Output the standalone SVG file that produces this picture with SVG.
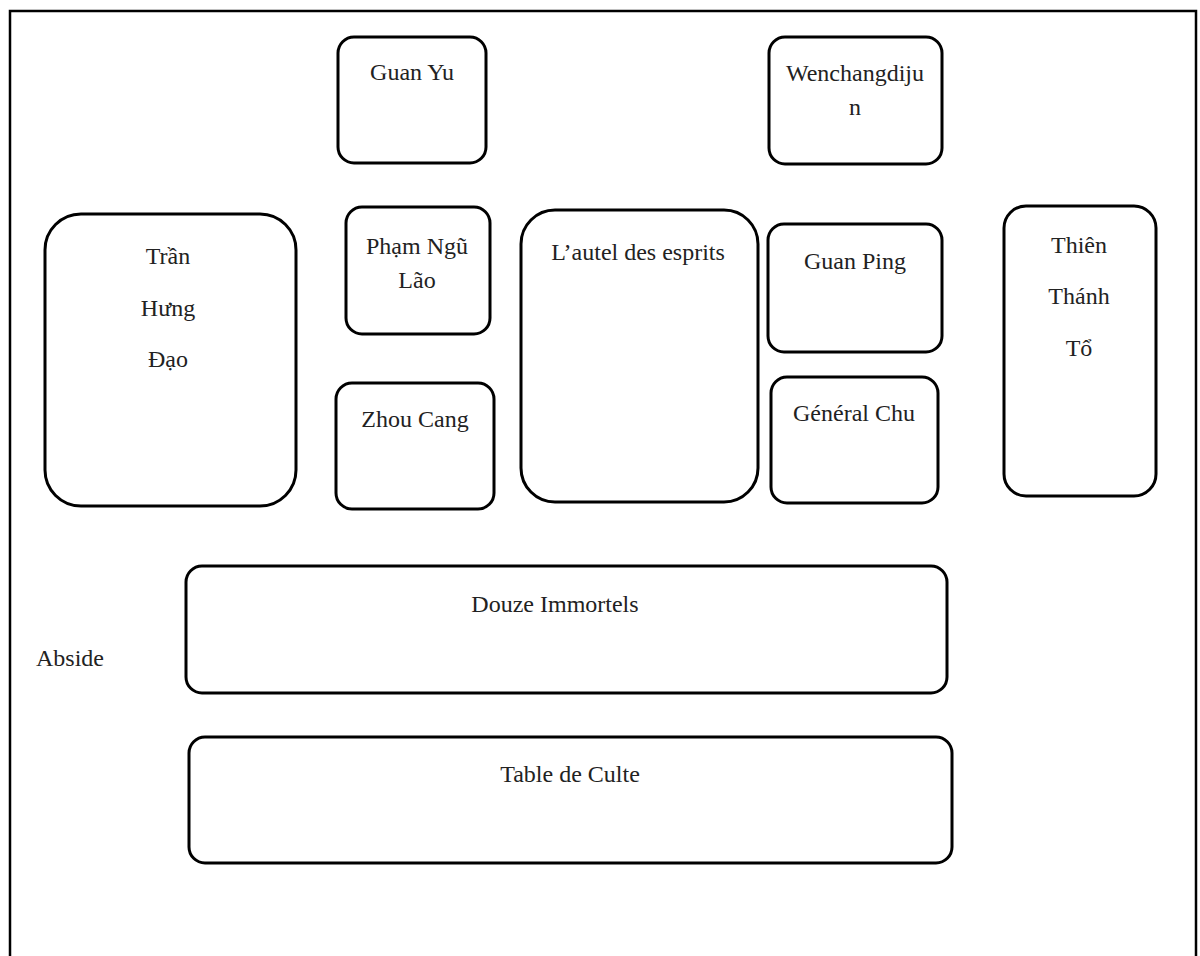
<svg xmlns="http://www.w3.org/2000/svg" width="1200" height="956" viewBox="0 0 1200 956">
<style>
.b{fill:#fff;stroke:#000;stroke-width:3}
.t{font-family:"Liberation Serif","Times New Roman",serif;font-size:24px;fill:#222;text-anchor:middle}
.frame{fill:none;stroke:#000;stroke-width:2.5}
</style>
<rect width="1200" height="956" fill="#fff"/>
<path class="frame" d="M10,960 V11 H1196 V960"/>
<g id="connectors"/>
<g id="guan-yu"><rect class="b" x="338" y="37" width="148" height="126" rx="16"/><text class="t" x="412" y="80">Guan Yu</text></g>
<g id="wenchangdijun"><rect class="b" x="769" y="37" width="173" height="127" rx="16"/><text class="t" x="855" y="81">Wenchangdiju</text><text class="t" x="855" y="115">n</text></g>
<g id="tran-hung-dao"><rect class="b" x="45" y="214" width="251" height="292" rx="36"/><text class="t" x="168" y="264">Trần</text><text class="t" x="168" y="316">Hưng</text><text class="t" x="168" y="367">Đạo</text></g>
<g id="pham-ngu-lao"><rect class="b" x="346" y="207" width="144" height="127" rx="16"/><text class="t" x="417" y="254">Phạm Ngũ</text><text class="t" x="417" y="288">Lão</text></g>
<g id="zhou-cang"><rect class="b" x="336" y="383" width="158" height="126" rx="16"/><text class="t" x="415" y="427">Zhou Cang</text></g>
<g id="autel"><rect class="b" x="521" y="210" width="237" height="292" rx="34"/><text class="t" x="638" y="260">L’autel des esprits</text></g>
<g id="guan-ping"><rect class="b" x="768" y="224" width="174" height="128" rx="16"/><text class="t" x="855" y="269">Guan Ping</text></g>
<g id="general-chu"><rect class="b" x="771" y="377" width="167" height="126" rx="16"/><text class="t" x="854" y="421">Général Chu</text></g>
<g id="thien-thanh-to"><rect class="b" x="1004" y="206" width="152" height="290" rx="22"/><text class="t" x="1079" y="253">Thiên</text><text class="t" x="1079" y="304">Thánh</text><text class="t" x="1079" y="356">Tổ</text></g>
<g id="douze-immortels"><rect class="b" x="186" y="566" width="761" height="127" rx="16"/><text class="t" x="555" y="612">Douze Immortels</text></g>
<g id="table-de-culte"><rect class="b" x="189" y="737" width="763" height="126" rx="16"/><text class="t" x="570" y="782">Table de Culte</text></g>
<g id="abside"><text class="t" x="36" y="666" style="text-anchor:start">Abside</text></g>
</svg>
